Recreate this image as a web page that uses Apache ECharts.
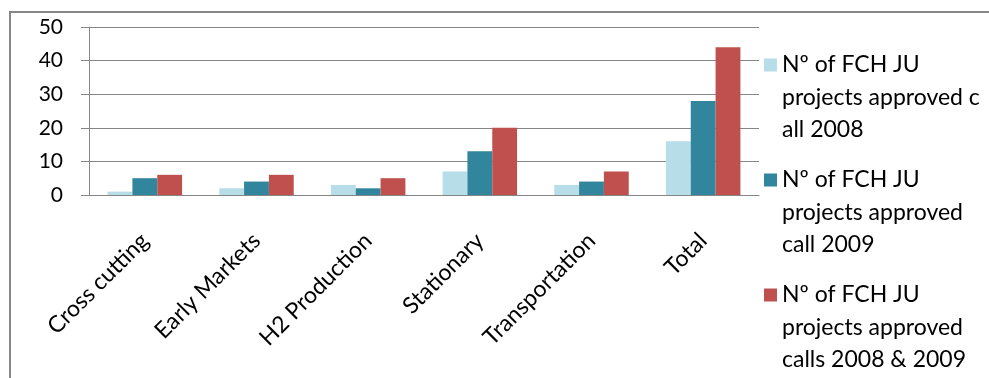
<!DOCTYPE html>
<html>
<head>
<meta charset="utf-8">
<script src="https://cdn.jsdelivr.net/npm/echarts@6.0.0/dist/echarts.min.js"></script>
<style>
    html, body { margin: 0; padding: 0; background: #fff; }
    #mountNode { width: 989px; height: 378px; }
</style>
</head>
<body>
<div id="mountNode"></div>
<script>
    // categories and series
    const categories = ['Cross cutting', 'Early Markets', 'H2 Production', 'Stationary', 'Transportation', 'Total']
    const call2008 = [1, 2, 3, 7, 3, 16]
    const call2009 = [5, 4, 2, 13, 4, 28]
    const calls2008and2009 = [6, 6, 5, 20, 7, 44]
    const seriesNames = [
        'Nº of FCH JU\nprojects approved c\nall 2008',
        'Nº of FCH JU\nprojects approved\ncall 2009',
        'Nº of FCH JU\nprojects approved\ncalls 2008 & 2009'
    ]
    const yTicks = { min: 0, max: 50, interval: 10 }

    const gray = '#868686'
    const font = 'Lato'

    const makeBar = (name, data, color) => ({
        name: name,
        type: 'bar',
        data: data,
        barGap: '0%',
        barCategoryGap: '33.3%',
        itemStyle: { color: color }
    })

    let myChart = echarts.init(document.getElementById('mountNode'), null, { renderer: 'canvas' })
    const option = {
        animation: false,
        textStyle: { fontFamily: font, color: '#000' },
        graphic: [
            {
                type: 'rect',
                z: -1,
                shape: { x: 10, y: 12, width: 1200, height: 600 },
                style: { fill: 'none', stroke: gray, lineWidth: 2 }
            }
        ],
        grid: { left: 89, right: 230, top: 27, bottom: 183 },
        legend: {
            orient: 'vertical',
            left: 764,
            top: -16.25,
            height: 2000,
            padding: 0,
            itemWidth: 13,
            itemHeight: 13,
            itemGap: -47.5,
            icon: 'rect',
            data: seriesNames,
            // two blank lines above so the marker sits beside the first line
            formatter: name => '\n\n' + name,
            textStyle: {
                fontFamily: font,
                fontSize: 23,
                lineHeight: 32.5,
                color: '#000'
            }
        },
        xAxis: {
            type: 'category',
            data: categories,
            axisLine: { lineStyle: { color: gray, width: 1 } },
            axisTick: { length: 10, lineStyle: { color: gray } },
            axisLabel: {
                interval: 0,
                rotate: 45,
                margin: 42,
                fontFamily: font,
                fontSize: 23,
                color: '#000'
            }
        },
        yAxis: {
            type: 'value',
            min: yTicks.min,
            max: yTicks.max,
            interval: yTicks.interval,
            axisLine: { show: true, lineStyle: { color: gray } },
            axisTick: { show: true, length: 8, lineStyle: { color: gray } },
            splitLine: { lineStyle: { color: gray, width: 1 } },
            axisLabel: {
                margin: 26,
                fontFamily: font,
                fontSize: 21,
                color: '#000'
            }
        },
        series: [
            makeBar(seriesNames[0], call2008, '#B7DDE8'),
            makeBar(seriesNames[1], call2009, '#31859C'),
            makeBar(seriesNames[2], calls2008and2009, '#C0504D')
        ]
    }
    myChart.setOption(option)
</script>
</body>
</html>
